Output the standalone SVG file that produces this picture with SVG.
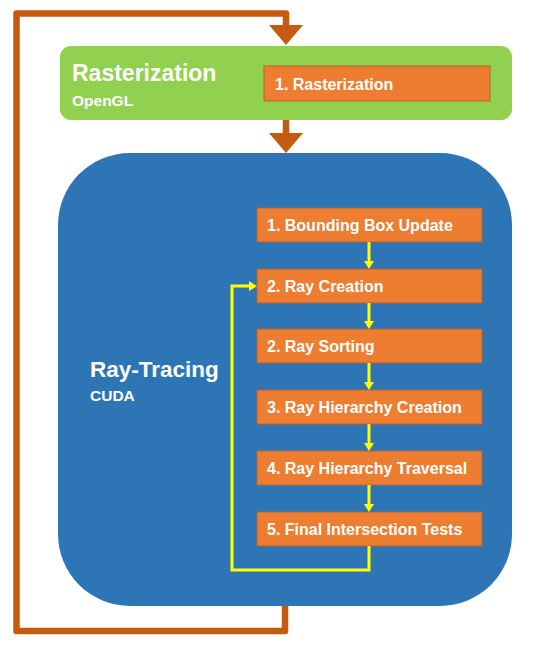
<svg xmlns="http://www.w3.org/2000/svg" width="550" height="650" viewBox="0 0 550 650">
  <style>
    .title { font-family: "Liberation Sans", Arial, sans-serif; font-weight: bold; fill: #ffffff; }
    .step rect { fill: #ED7D31; stroke: #B8622A; stroke-width: 1; }
    .step text { font-family: "Liberation Sans", Arial, sans-serif; font-weight: bold; font-size: 16px; fill: #ffffff; }
    .orange { fill: none; stroke: #C55A11; stroke-width: 6.5; stroke-linejoin: round; stroke-linecap: butt; }
    .yellow { fill: none; stroke: #FFFF00; stroke-width: 3; stroke-linejoin: miter; }
  </style>
  <defs>
    <marker id="oarrow" viewBox="0 0 20 34" markerWidth="20" markerHeight="34" markerUnits="userSpaceOnUse" refX="0" refY="17" orient="auto">
      <path d="M0,0 L20,17 L0,34 Z" fill="#C55A11"/>
    </marker>
    <marker id="yarrow" viewBox="0 0 8 10" markerWidth="8" markerHeight="10" markerUnits="userSpaceOnUse" refX="0" refY="5" orient="auto">
      <path d="M0,0 L8,5 L0,10 Z" fill="#FFFF00"/>
    </marker>
  </defs>

  <g id="raytracing">
    <rect x="58" y="153" width="454" height="453" rx="72" ry="72" fill="#2E75B6"/>
    <text class="title" x="90" y="377" font-size="22.5">Ray-Tracing</text>
    <text class="title" x="90" y="401" font-size="15.5">CUDA</text>
  </g>

  <g id="rasterization">
    <rect x="60" y="46" width="452" height="74" rx="11" ry="11" fill="#92D050"/>
    <text class="title" x="72" y="81" font-size="23">Rasterization</text>
    <text class="title" x="72" y="106" font-size="15.5">OpenGL</text>
  </g>

  <g id="step-rasterization" class="step">
    <rect x="264" y="66" width="226" height="35"/>
    <text x="275" y="90">1. Rasterization</text>
  </g>

  <g id="step-bbox" class="step">
    <rect x="257" y="208" width="225" height="34"/>
    <text x="267" y="231">1. Bounding Box Update</text>
  </g>
  <g id="step-raycreation" class="step">
    <rect x="257" y="269" width="225" height="34"/>
    <text x="267" y="292">2. Ray Creation</text>
  </g>
  <g id="step-raysorting" class="step">
    <rect x="257" y="329" width="225" height="34"/>
    <text x="267" y="352">2. Ray Sorting</text>
  </g>
  <g id="step-hiercreation" class="step">
    <rect x="257" y="390" width="225" height="34"/>
    <text x="267" y="413">3. Ray Hierarchy Creation</text>
  </g>
  <g id="step-hiertraversal" class="step">
    <rect x="257" y="451" width="225" height="34"/>
    <text x="267" y="474">4. Ray Hierarchy Traversal</text>
  </g>
  <g id="step-final" class="step">
    <rect x="257" y="512" width="225" height="34"/>
    <text x="267" y="535">5. Final Intersection Tests</text>
  </g>

  <g id="connectors">
    <path class="orange" d="M285,606 L285,631 L16.5,631 L16.5,13.5 L286,13.5 L286,25" marker-end="url(#oarrow)"/>
    <path class="orange" d="M286,120 L286,133" marker-end="url(#oarrow)"/>
    <path class="yellow" d="M369,242 L369,261" marker-end="url(#yarrow)"/>
    <path class="yellow" d="M369,303 L369,321" marker-end="url(#yarrow)"/>
    <path class="yellow" d="M369,363 L369,382" marker-end="url(#yarrow)"/>
    <path class="yellow" d="M369,424 L369,443" marker-end="url(#yarrow)"/>
    <path class="yellow" d="M369,485 L369,504" marker-end="url(#yarrow)"/>
    <path class="yellow" d="M369,546 L369,570 L232,570 L232,286 L249,286" marker-end="url(#yarrow)"/>
  </g>
</svg>
